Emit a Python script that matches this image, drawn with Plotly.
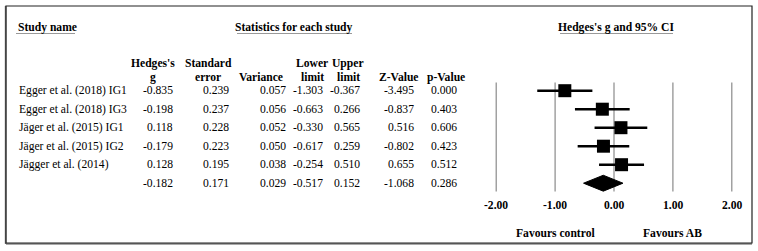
import plotly.graph_objects as go

# ---------------- data ----------------
studies = ["Egger et al. (2018) IG1", "Egger et al. (2018) IG3", "Jäger et al. (2015) IG1",
           "Jäger et al. (2015) IG2", "Jägger et al. (2014)", ""]
hedges_g = [-0.835, -0.198, 0.118, -0.179, 0.128, -0.182]
std_err = [0.239, 0.237, 0.228, 0.223, 0.195, 0.171]
variance = [0.057, 0.056, 0.052, 0.050, 0.038, 0.029]
lower_lim = [-1.303, -0.663, -0.330, -0.617, -0.254, -0.517]
upper_lim = [-0.367, 0.266, 0.565, 0.259, 0.510, 0.152]
z_value = [-3.495, -0.837, 0.516, -0.802, 0.655, -1.068]
p_value = [0.000, 0.403, 0.606, 0.423, 0.512, 0.286]
tick_vals = [-2, -1, 0, 1, 2]
tick_text = ["-2.00", "-1.00", "0.00", "1.00", "2.00"]
favours = [(-1, "Favours control"), (1, "Favours AB")]

# ---------------- layout helpers ----------------
W, H = 758, 251
X0PX, UNIT = 614.0, 58.9          # pixel of x=0 and pixels per unit
ROW0PX, ROWH = 90.7, 18.5         # pixel of first row and row spacing
FONT = "Liberation Serif, Times New Roman, serif"
FS = 11.6


def px(x):
    return x / W


def py(y):
    return 1 - y / H


xr = [(0 - X0PX) / UNIT, (W - X0PX) / UNIT]
yr = [(H - ROW0PX) / ROWH, (0 - ROW0PX) / ROWH]

n_study = len(studies) - 1
rows = list(range(len(studies)))

fig = go.Figure()

# study markers with CI whiskers
fig.add_trace(go.Scatter(
    x=hedges_g[:n_study], y=rows[:n_study], mode="markers",
    marker=dict(symbol="square", size=13, color="black"),
    error_x=dict(type="data", symmetric=False,
                 array=[u - g for u, g in zip(upper_lim[:n_study], hedges_g[:n_study])],
                 arrayminus=[g - l for g, l in zip(hedges_g[:n_study], lower_lim[:n_study])],
                 width=0, thickness=2.6, color="black"),
    hoverinfo="skip", showlegend=False))

# summary diamond
s = n_study
h = 0.43
fig.add_trace(go.Scatter(
    x=[lower_lim[s], hedges_g[s], upper_lim[s], hedges_g[s], lower_lim[s]],
    y=[rows[s], rows[s] - h, rows[s], rows[s] + h, rows[s]],
    mode="lines", fill="toself", fillcolor="black", line=dict(color="black", width=1),
    hoverinfo="skip", showlegend=False))

shapes = []
# vertical reference lines
for t in tick_vals:
    shapes.append(dict(type="line", xref="x", yref="y", x0=t, x1=t,
                       y0=-0.45, y1=len(studies) - 0.55,
                       line=dict(color="#8a8a8a", width=1.2), layer="below"))
# outer border
shapes.append(dict(type="rect", xref="paper", yref="paper", x0=px(6), x1=px(752),
                   y0=py(243), y1=py(6), line=dict(color="#222", width=1.2)))
shapes.append(dict(type="line", xref="paper", yref="paper", x0=px(6), x1=px(752),
                   y0=py(243.8), y1=py(243.8), line=dict(color="#555", width=1.5)))
shapes.append(dict(type="line", xref="paper", yref="paper", x0=px(5.6), x1=px(5.6),
                   y0=py(243.8), y1=py(6), line=dict(color="#444", width=1.5)))
# header underlines
for a, b in [(16, 75), (237, 352), (560, 673)]:
    shapes.append(dict(type="line", xref="paper", yref="paper", x0=px(a), x1=px(b),
                       y0=py(33.5), y1=py(33.5), line=dict(color="#999", width=1)))

ann = []


def txt(x, y, text, anchor="center", bold=False, xref="paper", yref="paper", size=FS):
    ann.append(dict(x=x, y=y, xref=xref, yref=yref, text=f"<b>{text}</b>" if bold else text,
                    showarrow=False, xanchor=anchor, yanchor="middle",
                    font=dict(family=FONT, size=size, color="black")))


# top headers
txt(px(16), py(27), "Study name", "left", True)
txt(px(294), py(27), "Statistics for each study", "center", True)
txt(px(616), py(27), "Hedges's g and 95% CI", "center", True)

# column headers (line1, line2, center px) and value right edges
col_heads = [("Hedges's", "g", 153), ("Standard", "error", 208), ("", "Variance", 261),
             ("Lower", "limit", 312), ("Upper", "limit", 348), ("", "Z-Value", 399),
             ("", "p-Value", 446)]
col_right = [175, 231, 288, 325, 362, 416, 459]
for l1, l2, c in col_heads:
    if l1:
        txt(px(c), py(63), l1, "center", True)
    txt(px(c), py(77.5), l2, "center", True)

cols = [hedges_g, std_err, variance, lower_lim, upper_lim, z_value, p_value]
for i, name in enumerate(studies):
    if name:
        txt(px(17), i, name, "left", yref="y")
    for col, r in zip(cols, col_right):
        txt(px(r), i, f"{col[i]:.3f}", "right", yref="y")

# tick labels & favours labels
for t, lab in zip(tick_vals, tick_text):
    txt(t, py(205.5), lab, "center", True, xref="x")
for fx, lab in favours:
    txt(fx, py(233.5), lab, "center", True, xref="x")

fig.update_layout(
    width=W, height=H, margin=dict(l=0, r=0, t=0, b=0),
    paper_bgcolor="white", plot_bgcolor="white",
    xaxis=dict(range=xr, visible=False, fixedrange=True),
    yaxis=dict(range=yr, visible=False, fixedrange=True),
    shapes=shapes, annotations=ann, showlegend=False)

fig.write_html("out.html", config={"displayModeBar": False},
               post_script="document.body.style.margin='0';document.body.style.overflow='hidden';")
